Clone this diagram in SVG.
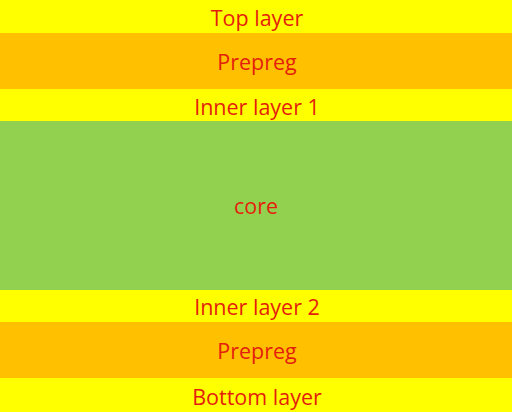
<svg xmlns="http://www.w3.org/2000/svg" width="512" height="412" viewBox="0 0 512 412">
<style>
.y{fill:#FFFF00}.o{fill:#FFC000}.g{fill:#92D050}
text{font-family:"Open Sans","Liberation Sans",sans-serif;font-size:21.5px;fill:#E41E0C;text-anchor:middle}
</style>
<g id="top"><rect class="y" x="0" y="0" width="512" height="33"/><text x="257" y="26">Top layer</text></g>
<g id="prepreg1"><rect class="o" x="0" y="33" width="512" height="56"/><text x="257" y="70">Prepreg</text></g>
<g id="inner1"><rect class="y" x="0" y="89" width="512" height="32"/><text x="257" y="114.5">Inner layer 1</text></g>
<g id="core"><rect class="g" x="0" y="121" width="512" height="169"/><text x="256" y="214">core</text></g>
<g id="inner2"><rect class="y" x="0" y="290" width="512" height="32"/><text x="257" y="315">Inner layer 2</text></g>
<g id="prepreg2"><rect class="o" x="0" y="322" width="512" height="56"/><text x="257" y="359">Prepreg</text></g>
<g id="bottom"><rect class="y" x="0" y="378" width="512" height="34"/><text x="257" y="404.5">Bottom layer</text></g>
</svg>
